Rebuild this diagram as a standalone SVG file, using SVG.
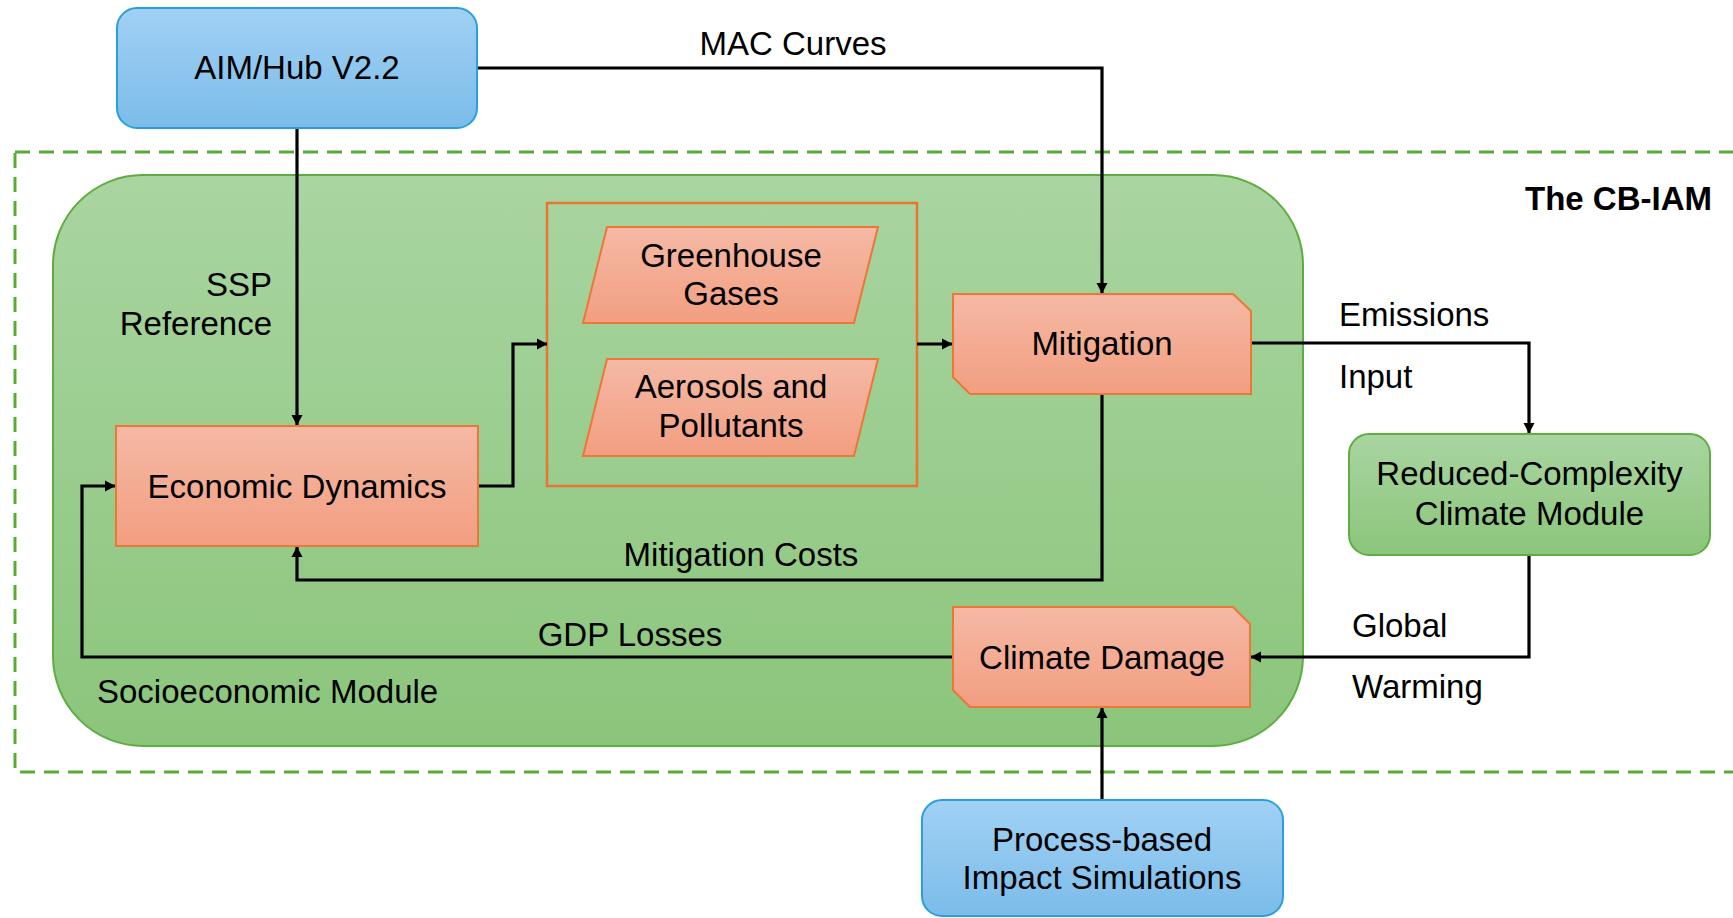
<svg xmlns="http://www.w3.org/2000/svg" width="1733" height="918" viewBox="0 0 1733 918">
  <defs>
    <linearGradient id="gGreen" x1="0" y1="0" x2="0" y2="1">
      <stop offset="0" stop-color="#a9d5a1"/>
      <stop offset="1" stop-color="#8bc57b"/>
    </linearGradient>
    <linearGradient id="gOrange" x1="0" y1="0" x2="0" y2="1">
      <stop offset="0" stop-color="#f5b9a5"/>
      <stop offset="1" stop-color="#f29e81"/>
    </linearGradient>
    <linearGradient id="gBlue" x1="0" y1="0" x2="0" y2="1">
      <stop offset="0" stop-color="#a1d1f5"/>
      <stop offset="1" stop-color="#7bbce9"/>
    </linearGradient>
    <marker id="arrow" markerUnits="userSpaceOnUse" markerWidth="11" markerHeight="12" refX="10" refY="6" orient="auto">
      <path d="M0,0.5 L10.5,6 L0,11.5 Z" fill="#000"/>
    </marker>
    <style>
      text { font-family: "Liberation Sans", Arial, Helvetica, sans-serif; font-size: 33px; fill: #000; }
      .c { text-anchor: middle; }
      .e { text-anchor: end; }
      .b { font-weight: bold; }
      .green { fill: url(#gGreen); stroke: #5fad40; stroke-width: 2; }
      .orange { fill: url(#gOrange); stroke: #ec7737; stroke-width: 2; }
      .blue { fill: url(#gBlue); stroke: #2a9fdb; stroke-width: 2; }
      .edge { fill: none; stroke: #000; stroke-width: 3.2; marker-end: url(#arrow); }
    </style>
  </defs>

  <!-- CB-IAM boundary -->
  <g id="cb-iam">
    <rect x="15" y="152" width="1740" height="620" fill="none" stroke="#58ab36" stroke-width="3" stroke-dasharray="15 9"/>
    <text x="1712" y="210" class="e b">The CB-IAM</text>
  </g>

  <!-- Socioeconomic module container -->
  <g id="socioeconomic-module">
    <rect x="53" y="175" width="1250" height="571" rx="90" ry="90" class="green"/>
    <text x="97" y="703">Socioeconomic Module</text>
  </g>

  <!-- Emission species group -->
  <g id="emissions-group">
    <rect x="547" y="203" width="370" height="283" fill="none" stroke="#ea7433" stroke-width="2.5"/>
  </g>
  <g id="greenhouse-gases">
    <polygon points="607,227 878,227 854,323 583,323" class="orange"/>
    <text x="731" y="267" class="c">Greenhouse</text>
    <text x="731" y="305" class="c">Gases</text>
  </g>
  <g id="aerosols">
    <polygon points="607,359 878,359 854,456 583,456" class="orange"/>
    <text x="731" y="398" class="c">Aerosols and</text>
    <text x="731" y="437" class="c">Pollutants</text>
  </g>

  <!-- Connectors -->
  <g id="connectors">
    <path d="M297,128 V425" class="edge"/>
    <path d="M477,68 H1102 V293" class="edge"/>
    <path d="M478,486 H513 V344 H547" class="edge"/>
    <path d="M917,344 H952" class="edge"/>
    <path d="M1251,343 H1529 V433" class="edge"/>
    <path d="M1102,394 V580 H297 V547" class="edge"/>
    <path d="M1529,555 V657 H1251" class="edge"/>
    <path d="M953,657 H82 V486 H115" class="edge"/>
    <path d="M1102,800 V708" class="edge"/>
  </g>

  <!-- Connector labels -->
  <g id="labels">
    <text x="793" y="55" class="c">MAC Curves</text>
    <text x="272" y="296" class="e">SSP</text>
    <text x="272" y="335" class="e">Reference</text>
    <text x="741" y="566" class="c">Mitigation Costs</text>
    <text x="630" y="646" class="c">GDP Losses</text>
    <text x="1339" y="326">Emissions</text>
    <text x="1339" y="388">Input</text>
    <text x="1352" y="637">Global</text>
    <text x="1352" y="698">Warming</text>
  </g>

  <g id="aim-hub">
    <rect x="117" y="8" width="360" height="120" rx="20" ry="20" class="blue"/>
    <text x="297" y="79" class="c">AIM/Hub V2.2</text>
  </g>

  <g id="economic-dynamics">
    <rect x="116" y="426" width="362" height="120" class="orange"/>
    <text x="297" y="498" class="c">Economic Dynamics</text>
  </g>

  <g id="mitigation">
    <path d="M953,294 H1233 L1251,311 V394 H970 L953,377 Z" class="orange"/>
    <text x="1102" y="355" class="c">Mitigation</text>
  </g>

  <g id="climate-damage">
    <path d="M953,607 H1233 L1250,624 V707 H970 L953,690 Z" class="orange"/>
    <text x="1102" y="669" class="c">Climate Damage</text>
  </g>

  <g id="climate-module">
    <rect x="1349" y="434" width="361" height="121" rx="20" ry="20" class="green"/>
    <text x="1529.5" y="485" class="c">Reduced-Complexity</text>
    <text x="1529.5" y="525" class="c">Climate Module</text>
  </g>

  <g id="impact-simulations">
    <rect x="922" y="800" width="361" height="116" rx="20" ry="20" class="blue"/>
    <text x="1102" y="851" class="c">Process-based</text>
    <text x="1102" y="889" class="c">Impact Simulations</text>
  </g>
</svg>
